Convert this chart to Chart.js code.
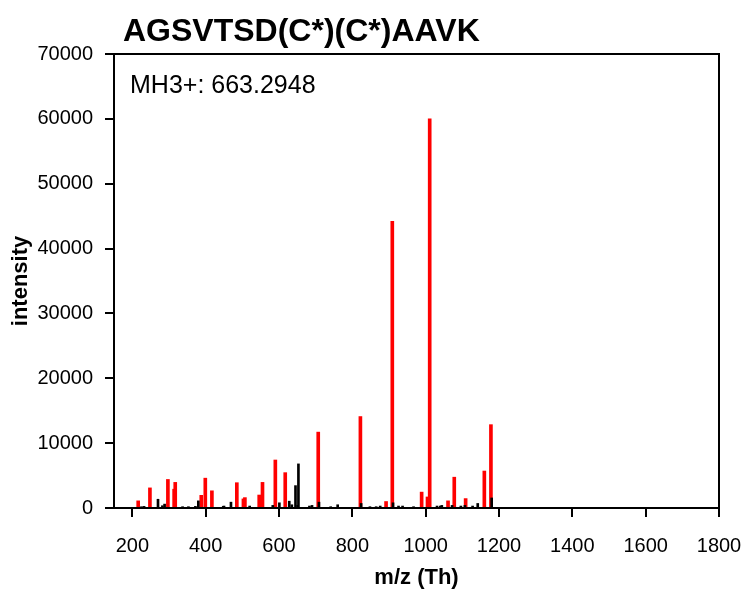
<!DOCTYPE html>
<html>
<head>
<meta charset="utf-8">
<script src="https://cdn.jsdelivr.net/npm/chart.js@4/dist/chart.umd.min.js"></script>
<style>
  html, body { margin: 0; padding: 0; background: #fff; }
  #wrap { width: 745px; height: 589px; position: relative; }
</style>
</head>
<body>
<div id="wrap"><canvas id="c" width="745" height="589"></canvas></div>
<script>
const chartTitle = "AGSVTSD(C*)(C*)AAVK";
const precursorLabel = "MH3+: 663.2948";
const xTickValues = [200, 400, 600, 800, 1000, 1200, 1400, 1600, 1800];
const yTickValues = [0, 10000, 20000, 30000, 40000, 50000, 60000, 70000];

// matched (red) fragment peaks
const redMz = [216, 248, 297, 314, 317, 388, 399, 417, 485, 503, 507, 546, 555, 590, 617, 707, 822, 892, 909, 989, 1005, 1011, 1061, 1078, 1109, 1160, 1178];
const redIntensity = [1100, 3100, 4400, 2900, 3950, 1950, 4600, 2650, 3900, 1400, 1600, 2000, 3950, 7400, 5450, 11700, 14100, 1000, 44200, 2450, 1700, 60000, 1100, 4750, 1450, 5700, 12850];

// unmatched (black) peaks
const blackMz = [225, 232, 270, 282, 288, 337, 353, 372, 380, 448, 450, 469, 520, 583, 601, 628, 635, 645, 651, 653, 683, 690, 709, 741, 760, 824, 848, 865, 876, 911, 926, 937, 967, 1031, 1040, 1044, 1072, 1096, 1107, 1128, 1142, 1180];
const blackIntensity = [200, 250, 1350, 350, 600, 200, 200, 250, 1100, 250, 300, 900, 300, 400, 800, 1050, 500, 3450, 400, 6800, 300, 400, 900, 200, 500, 700, 200, 200, 300, 800, 300, 300, 200, 300, 300, 400, 400, 300, 400, 300, 700, 1550];

const redData = redMz.map((m, i) => ({ x: m, y: redIntensity[i] }));
const blackData = blackMz.map((m, i) => ({ x: m, y: blackIntensity[i] }));

const framePlugin = {
  id: 'framePlugin',
  afterDraw(chart) {
    const { ctx, chartArea: a } = chart;
    ctx.save();
    ctx.strokeStyle = '#000';
    ctx.lineWidth = 2;
    ctx.strokeRect(a.left, a.top, a.right - a.left, a.bottom - a.top);
    ctx.fillStyle = '#000';
    ctx.textBaseline = 'alphabetic';
    ctx.textAlign = 'left';
    ctx.font = 'bold 32px "Liberation Sans", Arial, sans-serif';
    ctx.fillText(chartTitle, 123, 41);
    ctx.font = '25px "Liberation Sans", Arial, sans-serif';
    ctx.fillText(precursorLabel, 130, 93);
    ctx.restore();
  }
};

new Chart(document.getElementById('c'), {
  type: 'bar',
  data: {
    datasets: [
      { label: 'unmatched', data: blackData, backgroundColor: '#000000', barThickness: 2, grouped: false, order: 0 },
      { label: 'matched', data: redData, backgroundColor: '#ff0000', barThickness: 3, grouped: false, order: 1 }
    ]
  },
  options: {
    responsive: false,
    animation: false,
    layout: { padding: { top: 54, right: 26, left: 0, bottom: 0 } },
    plugins: { legend: { display: false }, tooltip: { enabled: false }, title: { display: false } },
    scales: {
      x: {
        type: 'linear',
        min: 150,
        max: 1800,
        offset: false,
        afterBuildTicks: (s) => { s.ticks = xTickValues.map(v => ({ value: v })); },
        afterFit: (s) => { s.height = 81; s.paddingLeft = 0; s.paddingRight = 0; },
        grid: { display: true, offset: false, drawOnChartArea: false, drawTicks: true, tickLength: 9, color: '#000', lineWidth: 2 },
        border: { display: false },
        ticks: { color: '#000', font: { family: '"Liberation Sans", Arial, sans-serif', size: 20 }, padding: 17, maxRotation: 0, autoSkip: false, callback: (v) => String(v) },
        title: { display: true, text: 'm/z (Th)', color: '#000', font: { family: '"Liberation Sans", Arial, sans-serif', size: 22, weight: 'bold' }, padding: { top: 0, bottom: -2 } }
      },
      y: {
        min: 0,
        max: 70000,
        afterBuildTicks: (s) => { s.ticks = yTickValues.map(v => ({ value: v })); },
        afterFit: (s) => { s.width = 114; s.paddingTop = 0; s.paddingBottom = 0; },
        grid: { display: true, offset: false, drawOnChartArea: false, drawTicks: true, tickLength: 9, color: '#000', lineWidth: 2 },
        border: { display: false },
        ticks: { color: '#000', font: { family: '"Liberation Sans", Arial, sans-serif', size: 20 }, padding: 12, autoSkip: false, callback: (v) => String(v) },
        title: { display: true, text: 'intensity', color: '#000', font: { family: '"Liberation Sans", Arial, sans-serif', size: 22, weight: 'bold' }, padding: { top: 8, bottom: 0 } }
      }
    }
  },
  plugins: [framePlugin]
});
</script>
</body>
</html>
